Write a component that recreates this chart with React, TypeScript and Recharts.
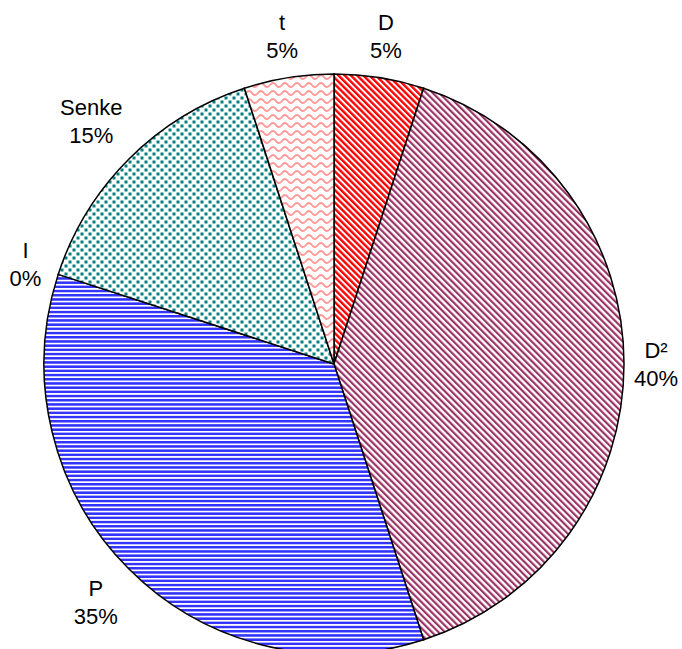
import React from 'react';
import { PieChart, Pie, Cell } from 'recharts';

const categories = ['D', 'D²', 'P', 'I', 'Senke', 't'];
const shares = [5, 40, 35, 0, 15, 5];

const data = categories.map((name, i) => ({ name, value: shares[i] }));

const patternIds = ['patD', 'patD2', 'patP', 'patI', 'patSenke', 'patT'];

const FONT_SIZE = 22;
const FONT_FAMILY = '"Liberation Sans", Arial, Helvetica, sans-serif';
const LINE_GAP = 28;
const RAD = Math.PI / 180;

let ctx: CanvasRenderingContext2D | null = null;
const measure = (s: string) => {
  if (!ctx) {
    const c = document.createElement('canvas');
    ctx = c.getContext('2d');
  }
  if (!ctx) return s.length * FONT_SIZE * 0.6;
  ctx.font = `${FONT_SIZE}px ${FONT_FAMILY}`;
  return ctx.measureText(s).width;
};

const renderLabel = (props: any) => {
  const { cx, cy, midAngle, outerRadius } = props;
  const name = props.payload?.name ?? props.name;
  const value = props.payload?.value ?? props.value;
  const l1 = String(name);
  const l2 = `${value}%`;
  const hw = Math.max(measure(l1), measure(l2)) / 2;
  const hh = 30;
  const c = Math.cos(-midAngle * RAD);
  const s = Math.sin(-midAngle * RAD);
  const R = outerRadius + 10 + Math.abs(c) * hw + Math.abs(s) * hh;
  const x = cx + R * c;
  const y = cy + R * s;
  return (
    <text
      x={x}
      y={y}
      textAnchor="middle"
      fontSize={FONT_SIZE}
      fontFamily={FONT_FAMILY}
      fill="#000"
    >
      <tspan x={x} y={y - LINE_GAP / 2 + 8}>{l1}</tspan>
      <tspan x={x} y={y + LINE_GAP / 2 + 8}>{l2}</tspan>
    </text>
  );
};

export default function App() {
  return (
    <div style={{ position: 'absolute', left: 0, top: 0, width: 682, height: 649, background: '#fff' }}>
      <PieChart width={682} height={649} margin={{ top: 0, right: 0, bottom: 0, left: 0 }}>
        <defs>
          <pattern id="patD" patternUnits="userSpaceOnUse" width="4.4" height="4.4" patternTransform="rotate(-45)">
            <rect x="0" y="0" width="4.4" height="4.4" fill="#ffffff" />
            <rect x="0" y="0" width="2.4" height="4.4" fill="#ff0000" />
          </pattern>
          <pattern id="patD2" patternUnits="userSpaceOnUse" width="4.6" height="4.6" patternTransform="rotate(-45)">
            <rect x="0" y="0" width="4.6" height="4.6" fill="#ffffff" />
            <rect x="0" y="0" width="2.2" height="4.6" fill="#993366" />
          </pattern>
          <pattern id="patP" patternUnits="userSpaceOnUse" width="8" height="4.2">
            <rect x="0" y="0" width="8" height="4.2" fill="#ffffff" />
            <rect x="0" y="0" width="8" height="2.5" fill="#3333ff" />
          </pattern>
          <pattern id="patI" patternUnits="userSpaceOnUse" width="8" height="8">
            <rect x="0" y="0" width="8" height="8" fill="#ffffff" />
          </pattern>
          <pattern id="patSenke" patternUnits="userSpaceOnUse" width="8" height="8">
            <rect x="0" y="0" width="8" height="8" fill="#ffffff" />
            <rect x="0.5" y="0.5" width="3" height="3" fill="#008080" />
            <rect x="4.5" y="4.5" width="3" height="3" fill="#008080" />
          </pattern>
          <pattern id="patT" patternUnits="userSpaceOnUse" width="12" height="8">
            <rect x="0" y="0" width="12" height="8" fill="#ffffff" />
            <path d="M-6 5 Q-3 1 0 5 T6 5 T12 5 T18 5" fill="none" stroke="#ff9999" strokeWidth="1.8" />
          </pattern>
        </defs>
        <Pie
          data={data}
          dataKey="value"
          nameKey="name"
          cx={334}
          cy={364}
          outerRadius={290}
          innerRadius={0}
          startAngle={90}
          endAngle={-270}
          stroke="#000"
          strokeWidth={1.5}
          label={renderLabel}
          labelLine={false}
          isAnimationActive={false}
        >
          {data.map((d, i) => (
            <Cell key={d.name} fill={`url(#${patternIds[i]})`} stroke="#000" strokeWidth={1.5} />
          ))}
        </Pie>
      </PieChart>
    </div>
  );
}
